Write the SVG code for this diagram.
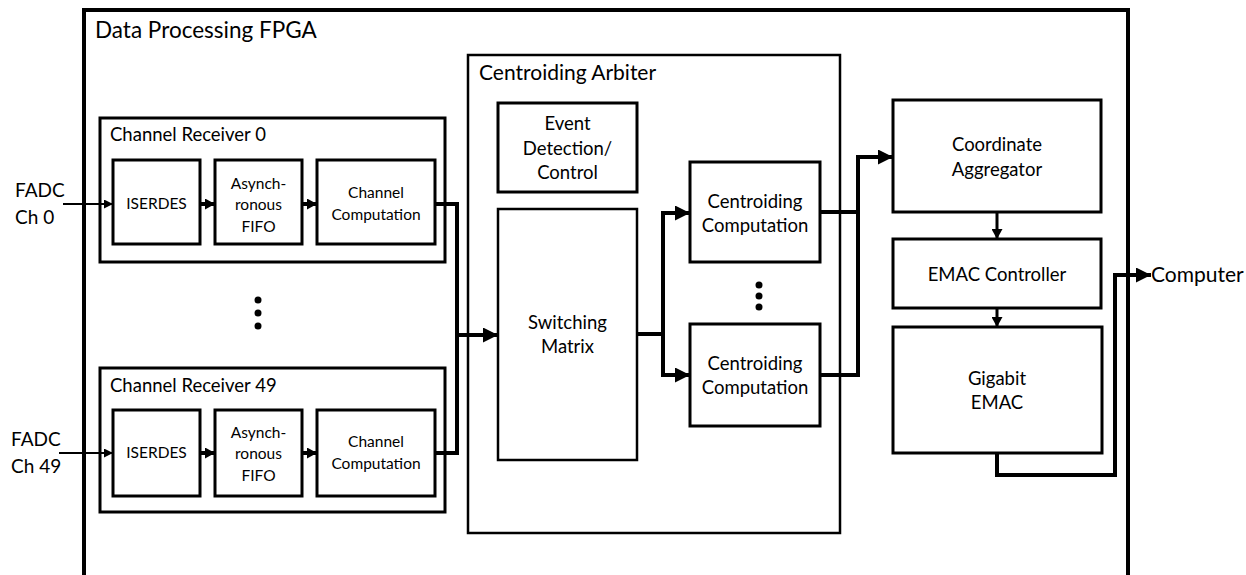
<svg xmlns="http://www.w3.org/2000/svg" width="1246" height="575" viewBox="0 0 1246 575">
  <style>
    text { font-family: Lato, "Open Sans", "Liberation Sans", sans-serif; fill: #000; }
    .frame { fill: none; stroke: #000; stroke-width: 4; }
    .group { fill: #fff; stroke: #000; stroke-width: 3; }
    .box { fill: #fff; stroke: #000; stroke-width: 3; }
    .title { font-size: 18.5px; }
    .big-title { font-size: 22.5px; }
    .lbl { font-size: 15.5px; text-anchor: middle; }
    .lbl2 { font-size: 18.5px; text-anchor: middle; }
    .io { font-size: 19px; }
    .bus { fill: none; stroke: #000; stroke-width: 4; }
    .wire { fill: none; stroke: #000; stroke-width: 2; }
    .link { fill: none; stroke: #000; stroke-width: 3; }
  </style>
  <defs>
    <marker id="head-big" markerUnits="userSpaceOnUse" markerWidth="15" markerHeight="15" refX="15" refY="7.5" orient="auto">
      <path d="M0,0 L15,7.5 L0,15 Z" fill="#000"/>
    </marker>
    <marker id="head-mid" markerUnits="userSpaceOnUse" markerWidth="10" markerHeight="11" refX="10" refY="5.5" orient="auto">
      <path d="M0,0 L10,5.5 L0,11 Z" fill="#000"/>
    </marker>
    <marker id="head-small" markerUnits="userSpaceOnUse" markerWidth="9" markerHeight="9" refX="9" refY="4.5" orient="auto">
      <path d="M0,0 L9,4.5 L0,9 Z" fill="#000"/>
    </marker>
  </defs>

  <!-- FPGA outline (open at the bottom of the sheet) -->
  <g id="fpga">
    <rect class="frame" x="84" y="10" width="1044" height="600"/>
    <text class="big-title" x="95" y="38">Data Processing FPGA</text>
  </g>

  <!-- external inputs / outputs -->
  <g id="input-ch0">
    <text class="io" x="15" y="197">FADC</text>
    <text class="io" x="15" y="224">Ch 0</text>
  </g>
  <g id="input-ch49">
    <text class="io" x="11" y="446">FADC</text>
    <text class="io" x="11" y="473">Ch 49</text>
  </g>
  <g id="output-computer">
    <text class="io" x="1151" y="282" style="font-size:21px">Computer</text>
  </g>

  <!-- channel receiver 0 -->
  <g id="channel-receiver-0">
    <rect class="group" x="100" y="118" width="345" height="144"/>
    <text class="title" x="110" y="141">Channel Receiver 0</text>
  </g>
  <g id="iserdes-0">
    <rect class="box" x="113" y="160" width="87" height="84"/>
    <text class="lbl" x="156.5" y="209">ISERDES</text>
  </g>
  <g id="fifo-0">
    <rect class="box" x="215" y="160" width="87" height="84"/>
    <text class="lbl" x="258.5" y="189">Asynch-</text>
    <text class="lbl" x="258.5" y="210">ronous</text>
    <text class="lbl" x="258.5" y="232">FIFO</text>
  </g>
  <g id="chan-comp-0">
    <rect class="box" x="317" y="160" width="118" height="84"/>
    <text class="lbl" x="376" y="198">Channel</text>
    <text class="lbl" x="376" y="220">Computation</text>
  </g>

  <!-- ellipsis between receivers -->
  <g id="receiver-dots">
    <circle cx="258" cy="300" r="3.5"/>
    <circle cx="258" cy="313" r="3.5"/>
    <circle cx="258" cy="326" r="3.5"/>
  </g>

  <!-- channel receiver 49 -->
  <g id="channel-receiver-49">
    <rect class="group" x="100" y="368" width="345" height="144"/>
    <text class="title" x="110" y="392">Channel Receiver 49</text>
  </g>
  <g id="iserdes-49">
    <rect class="box" x="113" y="410" width="87" height="86"/>
    <text class="lbl" x="156.5" y="458">ISERDES</text>
  </g>
  <g id="fifo-49">
    <rect class="box" x="215" y="410" width="87" height="86"/>
    <text class="lbl" x="258.5" y="438">Asynch-</text>
    <text class="lbl" x="258.5" y="459">ronous</text>
    <text class="lbl" x="258.5" y="481">FIFO</text>
  </g>
  <g id="chan-comp-49">
    <rect class="box" x="317" y="410" width="118" height="86"/>
    <text class="lbl" x="376" y="447">Channel</text>
    <text class="lbl" x="376" y="469">Computation</text>
  </g>

  <!-- centroiding arbiter -->
  <g id="centroiding-arbiter">
    <rect class="group" x="468" y="55" width="372" height="478" style="stroke-width:2.5"/>
    <text class="title" x="479" y="80" style="font-size:21px">Centroiding Arbiter</text>
  </g>
  <g id="event-detection">
    <rect class="box" x="498" y="103" width="139" height="89"/>
    <text class="lbl2" x="567.5" y="130">Event</text>
    <text class="lbl2" x="567.5" y="155">Detection/</text>
    <text class="lbl2" x="567.5" y="179">Control</text>
  </g>
  <g id="switching-matrix">
    <rect class="box" x="498" y="209" width="139" height="251" style="stroke-width:2.5"/>
    <text class="lbl2" x="567.5" y="329">Switching</text>
    <text class="lbl2" x="567.5" y="353">Matrix</text>
  </g>
  <g id="centroid-comp-top">
    <rect class="box" x="690" y="162" width="130" height="100"/>
    <text class="lbl2" x="755" y="208">Centroiding</text>
    <text class="lbl2" x="755" y="232">Computation</text>
  </g>
  <g id="centroid-dots">
    <circle cx="759" cy="285" r="3.5"/>
    <circle cx="759" cy="296" r="3.5"/>
    <circle cx="759" cy="307" r="3.5"/>
  </g>
  <g id="centroid-comp-bottom">
    <rect class="box" x="690" y="324" width="130" height="102"/>
    <text class="lbl2" x="755" y="370">Centroiding</text>
    <text class="lbl2" x="755" y="394">Computation</text>
  </g>

  <!-- output chain -->
  <g id="coordinate-aggregator">
    <rect class="box" x="893" y="100" width="208" height="112"/>
    <text class="lbl2" x="997" y="151">Coordinate</text>
    <text class="lbl2" x="997" y="176">Aggregator</text>
  </g>
  <g id="emac-controller">
    <rect class="box" x="893" y="239" width="208" height="69"/>
    <text class="lbl2" x="997" y="281">EMAC Controller</text>
  </g>
  <g id="gigabit-emac">
    <rect class="box" x="893" y="327" width="209" height="126"/>
    <text class="lbl2" x="997" y="385">Gigabit</text>
    <text class="lbl2" x="997" y="409">EMAC</text>
  </g>

  <!-- connectors -->
  <g id="connectors">
    <!-- ADC inputs -->
    <path class="wire" d="M63,204 H113" marker-end="url(#head-small)"/>
    <path class="wire" d="M59,453 H113" marker-end="url(#head-small)"/>
    <!-- inside the receivers -->
    <path class="bus" d="M200,204 H215" marker-end="url(#head-mid)"/>
    <path class="bus" d="M302,204 H317" marker-end="url(#head-mid)"/>
    <path class="bus" d="M200,453 H215" marker-end="url(#head-mid)"/>
    <path class="bus" d="M302,453 H317" marker-end="url(#head-mid)"/>
    <!-- receivers to switching matrix -->
    <path class="bus" d="M435,204 H457 V453 H435"/>
    <path class="bus" d="M457,335 H498" marker-end="url(#head-big)"/>
    <!-- switching matrix to centroiding units -->
    <path class="bus" d="M637,334 H663"/>
    <path class="bus" d="M663,334 V213 H690" marker-end="url(#head-big)"/>
    <path class="bus" d="M663,334 V375 H690" marker-end="url(#head-big)"/>
    <!-- centroiding units to aggregator -->
    <path class="bus" d="M820,212 H858"/>
    <path class="bus" d="M820,375 H858 V157 H893" marker-end="url(#head-big)"/>
    <!-- aggregator to EMAC -->
    <path class="link" d="M997,212 V239" marker-end="url(#head-mid)"/>
    <path class="link" d="M997,308 V327" marker-end="url(#head-mid)"/>
    <!-- EMAC to computer -->
    <path class="bus" d="M997,453 V475 H1115 V275 H1151" marker-end="url(#head-big)"/>
  </g>
</svg>
